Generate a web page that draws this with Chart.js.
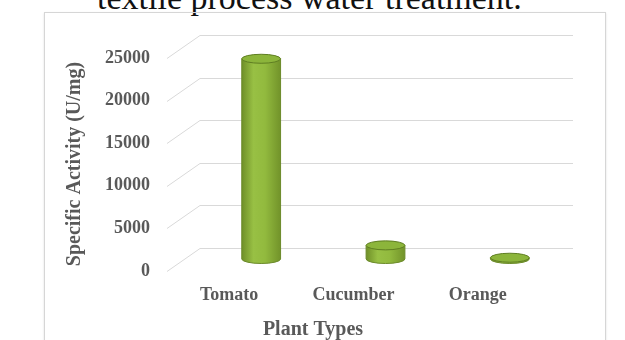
<!DOCTYPE html>
<html>
<head>
<meta charset="utf-8">
<script src="https://cdn.jsdelivr.net/npm/chart.js@4.4.1/dist/chart.umd.min.js"></script>
<style>
  html, body { margin: 0; padding: 0; background: #fff; }
  #page { position: relative; width: 625px; height: 340px; overflow: hidden; background: #fff; }
  #caption {
    position: absolute; left: 97px; top: -19px; white-space: nowrap;
    font-family: "Liberation Serif", "Times New Roman", serif; font-size: 34px; line-height: 34px; color: #111;
  }
  #frame {
    position: absolute; left: 44px; top: 12px; width: 560px; height: 400px;
    border: 1px solid #d6d6d6; box-shadow: 0 1px 2px rgba(0,0,0,0.12);
  }
  #grafico { position: absolute; left: 0; top: 0; }
</style>
</head>
<body>
<div id="page">
  <div id="caption">textile process water treatment.</div>
  <div id="frame"></div>
  <canvas id="grafico" width="625" height="340"></canvas>
</div>
<script>
// dados
const plantas = ["Tomato", "Cucumber", "Orange"];
const atividade = [23500, 1600, 150];
const ticksY = [0, 5000, 10000, 15000, 20000, 25000];

const tituloY = "Specific Activity (U/mg)";
const tituloX = "Plant Types";

// profundidade 3D (parede do fundo e centro dos cilindros)
const PROF_X = 33, PROF_Y = -23;
const CIL_X = 32, CIL_Y = -12;

const fonteSerif = "'Liberation Serif', 'Times New Roman', serif";
const cinzaTexto = "#595959";
const cinzaGrade = "#d9d9d9";

// grade em perspectiva: diagonal da frente para o fundo + linha no fundo
const gradePerspectiva = {
  id: "gradePerspectiva",
  beforeDatasetsDraw(chart) {
    const { ctx, chartArea, scales } = chart;
    ctx.save();
    ctx.strokeStyle = cinzaGrade;
    ctx.lineWidth = 1;
    ticksY.forEach((v) => {
      const y = Math.round(scales.y.getPixelForValue(v)) + 0.5;
      ctx.beginPath();
      ctx.moveTo(chartArea.left, y);
      ctx.lineTo(chartArea.left + PROF_X, y + PROF_Y);
      ctx.lineTo(chartArea.right + PROF_X, y + PROF_Y);
      ctx.stroke();
    });
    ctx.restore();
  }
};

// cilindros desenhados a partir das barras do Chart.js
const cilindros = {
  id: "cilindros",
  afterDatasetsDraw(chart) {
    const { ctx } = chart;
    const meta = chart.getDatasetMeta(0);
    meta.data.forEach((bar) => {
      const cx = bar.x + CIL_X;
      const rx = bar.width / 2;
      const ry = 4.5;
      const topo = bar.y + CIL_Y;
      const base = bar.base + CIL_Y;

      ctx.save();
      const grad = ctx.createLinearGradient(cx - rx, 0, cx + rx, 0);
      grad.addColorStop(0, "#6f8f28");
      grad.addColorStop(0.3, "#98c044");
      grad.addColorStop(0.6, "#92ba3e");
      grad.addColorStop(1, "#72932a");

      // corpo
      ctx.beginPath();
      ctx.moveTo(cx - rx, topo);
      ctx.lineTo(cx - rx, base);
      ctx.ellipse(cx, base, rx, ry, 0, Math.PI, 0, true);
      ctx.lineTo(cx + rx, topo);
      ctx.closePath();
      ctx.fillStyle = grad;
      ctx.fill();
      ctx.strokeStyle = "#6b8a2a";
      ctx.lineWidth = 1;
      ctx.stroke();

      // tampa
      ctx.beginPath();
      ctx.ellipse(cx, topo, rx, ry, 0, 0, Math.PI * 2);
      ctx.fillStyle = "#8cb53b";
      ctx.fill();
      ctx.strokeStyle = "#5f7e22";
      ctx.stroke();
      ctx.restore();
    });
  }
};

// titulos dos eixos
const titulosEixos = {
  id: "titulosEixos",
  afterDraw(chart) {
    const { ctx } = chart;
    ctx.save();
    ctx.fillStyle = cinzaTexto;
    ctx.textAlign = "center";
    ctx.textBaseline = "middle";

    ctx.font = "bold 20px " + fonteSerif;
    ctx.fillText(tituloX, 313, 330);

    ctx.translate(75, 164);
    ctx.rotate(-Math.PI / 2);
    ctx.fillText(tituloY, 0, 0);
    ctx.restore();
  }
};

new Chart(document.getElementById("grafico"), {
  type: "bar",
  data: {
    labels: plantas,
    datasets: [{
      data: atividade,
      backgroundColor: "rgba(0,0,0,0)",
      borderWidth: 0,
      barPercentage: 0.312,
      categoryPercentage: 1
    }]
  },
  options: {
    responsive: false,
    devicePixelRatio: 1,
    animation: false,
    layout: { padding: { left: 0, top: 58, right: 85, bottom: 0 } },
    plugins: { legend: { display: false }, tooltip: { enabled: false } },
    scales: {
      y: {
        min: 0,
        max: 25000,
        afterFit: (s) => { s.width = 167; },
        afterBuildTicks: (s) => { s.ticks = ticksY.map((v) => ({ value: v })); },
        grid: { display: false, drawTicks: false },
        border: { display: false },
        ticks: {
          padding: 17,
          color: cinzaTexto,
          font: { family: fonteSerif, size: 18, weight: "bold" },
          callback: (v) => String(v)
        }
      },
      x: {
        afterFit: (s) => { s.height = 69; },
        grid: { display: false, drawTicks: false },
        border: { display: false },
        ticks: {
          padding: 14,
          color: cinzaTexto,
          font: { family: fonteSerif, size: 18, weight: "bold" }
        }
      }
    }
  },
  plugins: [gradePerspectiva, cilindros, titulosEixos]
});
</script>
</body>
</html>
